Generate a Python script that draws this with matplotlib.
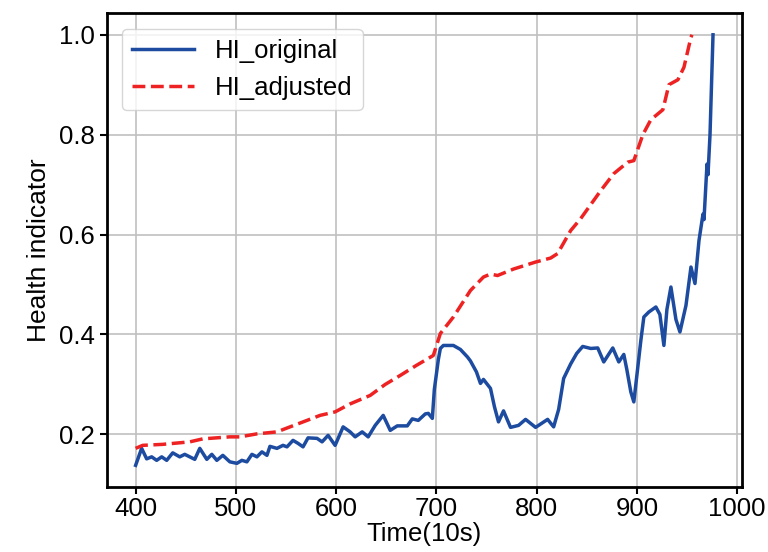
import numpy as np
import matplotlib.pyplot as plt

plt.rcParams['font.family'] = ['Liberation Sans', 'DejaVu Sans']

# HI_original (blue solid)
t_orig = [400, 406, 411, 416, 421, 426, 431, 437, 444, 449, 454, 459, 464, 471, 476,
          481, 487, 494, 501, 506, 511, 516, 521, 526, 531, 534, 541, 547, 551, 557,
          562, 567, 572, 581, 586, 592, 599, 607, 614, 619, 626, 632, 639, 647, 654,
          661, 671, 676, 682, 689, 692, 696, 698, 702, 704, 707, 717, 724, 731, 734,
          740, 744, 747, 754, 758, 762, 767, 774, 782, 789, 799, 805, 811, 817, 822,
          827, 834, 840, 846, 854, 861, 867, 876, 882, 887, 890, 894, 897, 901, 904,
          907, 912, 919, 923, 927, 930, 934, 939, 943, 949, 954, 958, 962, 966, 967,
          970, 971, 973, 976]
hi_orig = [0.138, 0.172, 0.151, 0.155, 0.148, 0.155, 0.148, 0.163, 0.155, 0.160, 0.155,
           0.150, 0.172, 0.150, 0.160, 0.148, 0.158, 0.145, 0.142, 0.148, 0.145, 0.160,
           0.155, 0.165, 0.158, 0.176, 0.172, 0.178, 0.175, 0.188, 0.182, 0.175, 0.193,
           0.192, 0.185, 0.198, 0.178, 0.215, 0.205, 0.195, 0.205, 0.195, 0.218, 0.238,
           0.208, 0.217, 0.217, 0.231, 0.228, 0.241, 0.242, 0.232, 0.290, 0.350, 0.372,
           0.378, 0.378, 0.370, 0.355, 0.347, 0.325, 0.302, 0.310, 0.292, 0.255, 0.225,
           0.247, 0.214, 0.218, 0.230, 0.214, 0.222, 0.230, 0.215, 0.250, 0.312, 0.341,
           0.362, 0.376, 0.372, 0.373, 0.345, 0.373, 0.345, 0.360, 0.330, 0.285, 0.265,
           0.335, 0.388, 0.435, 0.445, 0.455, 0.440, 0.378, 0.450, 0.495, 0.430, 0.405,
           0.458, 0.535, 0.502, 0.588, 0.641, 0.630, 0.741, 0.720, 0.800, 1.000]

# HI_adjusted (red dashed)
t_adj = [400, 407, 427, 454, 467, 494, 504, 521, 541, 554, 571, 584, 599, 614, 634,
         649, 664, 680, 697, 704, 717, 734, 747, 754, 761, 777, 799, 814, 821, 834,
         844, 864, 877, 891, 897, 906, 914, 926, 932, 941, 947, 954, 955]
hi_adj = [0.172, 0.178, 0.180, 0.185, 0.191, 0.195, 0.195, 0.201, 0.205, 0.215, 0.228,
          0.238, 0.245, 0.261, 0.278, 0.300, 0.318, 0.338, 0.358, 0.402, 0.435, 0.488,
          0.515, 0.521, 0.518, 0.531, 0.545, 0.553, 0.562, 0.608, 0.632, 0.688, 0.722,
          0.745, 0.748, 0.800, 0.830, 0.850, 0.900, 0.910, 0.935, 0.995, 1.000]

fig = plt.figure(figsize=(7.68, 5.52), dpi=100)
ax = fig.add_axes([0.139, 0.118, 0.827, 0.858])

ax.plot(t_orig, hi_orig, color='#1c4ba0', lw=2.5, label='HI_original')
ax.plot(t_adj, hi_adj, color='#ee2222', lw=2.5, ls='--', label='HI_adjusted')

ax.grid(True, color='#c0c0c0', lw=1.2)
for s in ax.spines.values():
    s.set_linewidth(2)
    s.set_color('black')
ax.tick_params(labelsize=18.5, width=1.5, length=5)
ax.tick_params(axis='x', pad=2)
ax.set_xticks([400, 500, 600, 700, 800, 900, 1000])
ax.set_yticks([0.2, 0.4, 0.6, 0.8, 1.0])
ax.set_xlabel('Time(10s)', fontsize=18.5, labelpad=1)
ax.set_ylabel('Health indicator', fontsize=19, labelpad=6)
ax.legend(loc='upper left', fontsize=18.5, handlelength=2.4, borderaxespad=0.6)

fig.savefig('out.png', dpi=100)
